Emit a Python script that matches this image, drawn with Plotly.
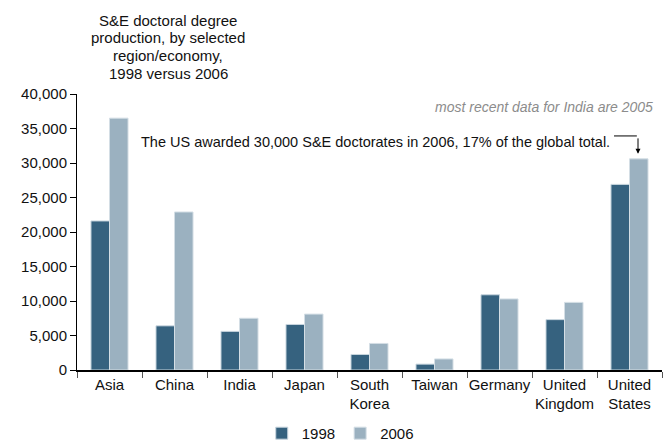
import plotly.graph_objects as go

categories = ["Asia", "China", "India", "Japan", "South<br>Korea", "Taiwan",
              "Germany", "United<br>Kingdom", "United<br>States"]
values_1998 = [21600, 6400, 5600, 6600, 2250, 850, 10900, 7300, 26900]
values_2006 = [36500, 22900, 7500, 8100, 3850, 1600, 10300, 9800, 30600]
y_ticks = [0, 5000, 10000, 15000, 20000, 25000, 30000, 35000, 40000]
heading_lines = ["S&E doctoral degree", "production, by selected",
                 "region/economy,", "1998 versus 2006"]

FONT = "Liberation Sans, Arial, sans-serif"
DARK = "#36627F"
LIGHT = "#9BB1C0"

fig = go.Figure()
fig.add_trace(go.Bar(x=categories, y=values_1998, name="1998",
                     marker=dict(color=DARK, line=dict(color="#C9D6DF", width=1))))
fig.add_trace(go.Bar(x=categories, y=values_2006, name="2006",
                     marker=dict(color=LIGHT, line=dict(color="#D4DEE5", width=1))))

fig.update_layout(
    width=670, height=443,
    margin=dict(l=77, r=8, t=94, b=73, autoexpand=False),
    paper_bgcolor="white", plot_bgcolor="white",
    font=dict(family=FONT, size=15, color="#111111"),
    barmode="group", bargap=0.43, bargroupgap=0,
    showlegend=True,
    legend=dict(orientation="h", x=0.45, xanchor="center", y=-0.17, yanchor="top",
                font=dict(size=15), itemwidth=30, tracegroupgap=0),
)
fig.update_xaxes(
    type="category", showline=True, linecolor="black", linewidth=1.5,
    ticks="outside", tickson="boundaries", ticklen=6, tickcolor="#555555",
    tickfont=dict(size=15), tickangle=0, automargin=False, showgrid=False,
)
fig.update_yaxes(
    range=[0, 40000], tickvals=y_ticks, tickformat=",d",
    showline=True, linecolor="black", linewidth=1,
    ticks="outside", ticklen=6, tickcolor="black",
    tickfont=dict(size=15), automargin=False, showgrid=False, zeroline=False,
)

# Chart heading, top left, one annotation per line for tighter leading
for i, line in enumerate(heading_lines):
    fig.add_annotation(
        xref="paper", yref="paper", x=0.156, y=1.268 - i * 0.064,
        xanchor="center", yanchor="middle",
        text=line, showarrow=False, font=dict(size=15),
    )
# India footnote
fig.add_annotation(
    xref="paper", yref="paper", x=0.988, y=0.953, xanchor="right", yanchor="middle",
    text="<i>most recent data for India are 2005</i>",
    showarrow=False, font=dict(size=14, color="#8C8C8C"),
)
# Callout for the US 2006 bar: text, elbow leader and arrow
us_2006 = values_2006[-1]
fig.add_annotation(
    xref="paper", yref="paper", x=0.915, y=0.826, xanchor="right", yanchor="middle",
    text="The US awarded 30,000 S&E doctorates in 2006, 17% of the global total.",
    showarrow=False, font=dict(size=14.5),
)
fig.add_annotation(
    xref="x", yref="y", x="United<br>States", y=us_2006, xshift=8.5, yshift=5,
    ax=0, ay=-17, showarrow=True, arrowhead=2, arrowsize=1, arrowwidth=1,
    arrowcolor="black", text="",
)
fig.add_shape(
    type="line", xref="paper", yref="paper", x0=0.918, x1=0.957,
    y0=0.848, y1=0.848, line=dict(color="black", width=1),
)

fig.write_html("out.html")
